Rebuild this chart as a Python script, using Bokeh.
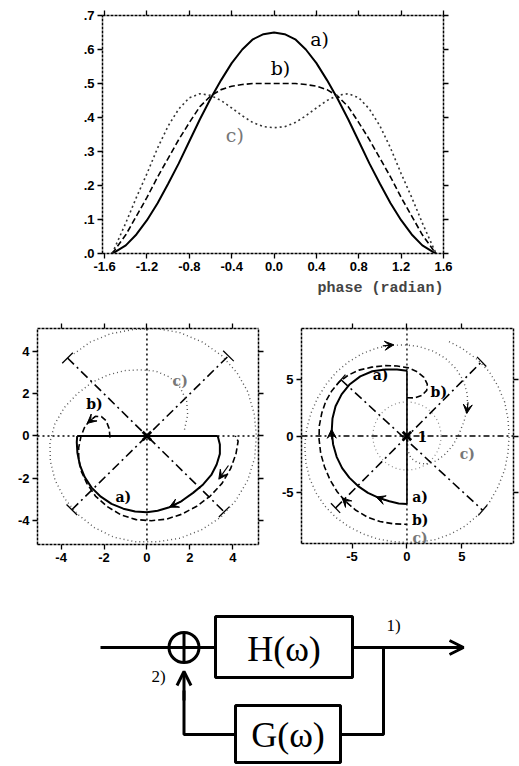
from bokeh.plotting import figure
from bokeh.layouts import column, row
from bokeh.models import (Range1d, LinearAxis, FixedTicker, Title, Span, Arrow,
                          VeeHead, OpenHead, ColumnDataSource)
from bokeh.core.properties import value
from bokeh.embed import file_html
from bokeh.resources import INLINE

# ---------------- top panel: intensity vs phase ----------------
phase = [-1.53, -1.5, -1.4, -1.3, -1.2, -1.1, -1.0, -0.9, -0.8, -0.7, -0.6, -0.5, -0.4,
         -0.3, -0.2, -0.1, 0.0, 0.1, 0.2, 0.3, 0.4, 0.5, 0.6, 0.7, 0.8, 0.9, 1.0, 1.1,
         1.2, 1.3, 1.4, 1.5, 1.53]
curve_a = [0.0, 0.005, 0.024, 0.056, 0.098, 0.148, 0.205, 0.265, 0.33, 0.395, 0.455, 0.51,
           0.56, 0.60, 0.63, 0.645, 0.65, 0.645, 0.63, 0.60, 0.56, 0.51, 0.455, 0.395, 0.33,
           0.265, 0.205, 0.148, 0.098, 0.056, 0.024, 0.005, 0.0]
curve_b = [0.0, 0.012, 0.055, 0.11, 0.165, 0.225, 0.28, 0.335, 0.385, 0.432, 0.463, 0.482,
           0.492, 0.497, 0.50, 0.50, 0.50, 0.50, 0.50, 0.497, 0.492, 0.482, 0.463, 0.432,
           0.385, 0.335, 0.28, 0.225, 0.165, 0.11, 0.055, 0.012, 0.0]
curve_c = [0.0, 0.02, 0.09, 0.165, 0.235, 0.31, 0.375, 0.425, 0.458, 0.47, 0.465, 0.45,
           0.428, 0.405, 0.385, 0.373, 0.37, 0.373, 0.385, 0.405, 0.428, 0.45, 0.465, 0.47,
           0.458, 0.425, 0.375, 0.31, 0.235, 0.165, 0.09, 0.02, 0.0]
top_xticks = [-1.6, -1.2, -0.8, -0.4, 0.0, 0.4, 0.8, 1.2, 1.6]
top_xlabels = ["-1.6", "-1.2", "-0.8", "-0.4", "0.0", "0.4", "0.8", "1.2", "1.6"]
top_yticks = [0.0, 0.1, 0.2, 0.3, 0.4, 0.5, 0.6, 0.7]
top_ylabels = [".0", ".1", ".2", ".3", ".4", ".5", ".6", ".7"]
top_lab_x = [0.43, 0.06, -0.37]
top_lab_y = [0.63, 0.545, 0.35]
top_lab_t = ["a)", "b)", "c)"]

# ---------------- bottom-left panel ----------------
La_x = [3.30, 3.40, 3.40, 3.25, 3.00, 2.62, 2.15, 1.60, 1.05, 0.50, 0.0, -0.55, -1.10, -1.65,
        -2.15, -2.58, -2.90, -3.12, -3.24, -3.27, -3.25]
La_y = [0.0, -0.40, -0.85, -1.35, -1.85, -2.30, -2.70, -3.10, -3.38, -3.55, -3.62, -3.58,
        -3.45, -3.22, -2.88, -2.45, -1.95, -1.40, -0.80, -0.30, 0.0]
La_diam_x = [-3.25, 3.30]
La_diam_y = [0.0, 0.0]
Lb_x = [-1.72, -1.76, -1.90, -2.12, -2.40, -2.68, -2.92, -3.08, -3.18, -3.18, -3.05, -2.80,
        -2.40, -1.85, -1.20, -0.50, 0.20, 0.90, 1.60, 2.30, 2.95, 3.50, 3.90, 4.15, 4.25, 4.12]
Lb_y = [-0.08, 0.35, 0.72, 0.92, 0.93, 0.72, 0.38, -0.05, -0.55, -1.10, -1.70, -2.25,
        -2.85, -3.35, -3.75, -3.97, -4.02, -3.95, -3.72, -3.35, -2.85, -2.25, -1.55, -0.85,
        -0.25, 0.0]
Lc_x = [1.75, 1.90, 1.85, 1.55, 1.05, 0.40, -0.33, -1.05, -1.80, -2.55, -3.25, -3.85, -4.30,
        -4.52, -4.50, -4.28, -3.85, -3.25, -2.45, -1.55, -0.55, 0.50, 1.55, 2.55, 3.45, 4.15,
        4.70, 5.02, 5.10, 5.00, 4.70, 4.20, 3.50, 2.60, 1.55, 0.45, -0.65, -1.70, -2.65, -3.40]
Lc_y = [0.30, 1.00, 1.65, 2.30, 2.80, 3.08, 3.14, 3.10, 2.90, 2.55, 2.00, 1.35, 0.55, -0.30,
        -1.20, -2.10, -2.95, -3.70, -4.35, -4.80, -5.02, -5.02, -4.85, -4.45, -3.85, -3.05,
        -2.10, -1.05, 0.0, 1.05, 2.10, 3.00, 3.80, 4.45, 4.90, 5.10, 5.05, 4.85, 4.45, 3.90]
L_diag_x0 = [-3.7, -3.5]
L_diag_y0 = [3.7, -3.5]
L_diag_x1 = [3.6, 3.8]
L_diag_y1 = [-3.6, 3.8]
L_arr_x0 = [1.70, 3.80, -2.40]
L_arr_y0 = [-3.05, -1.40, 0.93]
L_arr_x1 = [1.05, 3.35, -2.78]
L_arr_y1 = [-3.38, -2.05, 0.60]
L_lab_x = [-1.1, -2.45, 1.55]
L_lab_y = [-2.9, 1.5, 2.6]
L_lab_t = ["a)", "b)", "c)"]
L_ticks = [-4, -2, 0, 2, 4]
L_labels = ["-4", "-2", "0", "2", "4"]

# ---------------- bottom-right panel ----------------
Ra_x = [0.0, -0.75, -1.60, -2.56, -3.55, -4.45, -5.25, -5.90, -6.40, -6.72, -6.85, -6.78,
        -6.50, -5.95, -5.20, -4.25, -3.15, -1.96, -0.90, 0.0]
Ra_y = [-6.05, -5.99, -5.80, -5.50, -5.05, -4.45, -3.70, -2.85, -1.85, -0.75, 0.40, 1.55,
        2.65, 3.70, 4.60, 5.30, 5.75, 5.90, 5.90, 5.80]
Ra_stem_x = [0.0, 0.0]
Ra_stem_y = [-6.05, 5.80]
Rb_x = [0.0, 0.70, 1.35, 1.80, 1.85, 1.55, 0.95, 0.15, -0.90, -2.00, -3.20, -4.37, -5.35,
        -6.17, -6.85, -7.38, -7.75, -7.98, -8.00, -7.85, -7.50, -7.00, -6.35, -5.55, -4.65,
        -3.60, -2.45, -1.25, 0.0]
Rb_y = [3.40, 3.38, 3.60, 4.05, 4.60, 5.20, 5.70, 6.05, 6.22, 6.25, 6.12, 5.85, 5.40, 4.80,
        4.00, 3.10, 2.05, 0.90, -0.30, -1.55, -2.75, -3.90, -4.95, -5.85, -6.60, -7.20,
        -7.60, -7.80, -7.85]
Rc_x = [0.10, 0.05, 0.35, 1.00, 1.80, 2.70, 3.50, 4.20, 4.75, 5.20, 5.50, 5.50, 5.15, 4.45,
        3.50, 2.35, 1.10, -0.20, -1.50, -2.80, -4.10, -5.30, -6.40, -7.35, -8.15, -8.75,
        -9.15, -9.30, -9.20, -8.85, -8.25, -7.45, -6.45, -5.30, -4.00, -2.65, -1.30, 0.0,
        1.30, 2.60, 4.00, 5.30, 6.50, 7.50, 8.30, 8.90, 9.20, 9.30, 9.20, 8.90, 8.30, 7.50,
        6.40, 5.00, 3.60]
Rc_y = [-0.40, -1.20, -1.95, -2.40, -2.50, -2.20, -1.60, -0.80, 0.20, 1.30, 2.50, 3.70,
        4.90, 6.00, 6.90, 7.55, 7.95, 8.10, 8.05, 7.80, 7.30, 6.60, 5.70, 4.60, 3.35, 2.00,
        0.55, -0.90, -2.40, -3.80, -5.10, -6.25, -7.25, -8.05, -8.70, -9.15, -9.38, -9.45,
        -9.40, -9.20, -8.70, -8.00, -7.00, -5.90, -4.50, -3.00, -1.50, 0.0, 1.50, 3.00,
        4.40, 5.70, 6.80, 7.80, 8.50]
Rc_inner_r = [3.1]
R_diag_x0 = [-6.0, -6.5]
R_diag_y0 = [5.0, -6.4]
R_diag_x1 = [6.9, 6.8]
R_diag_y1 = [-6.6, 6.6]
R_arr_x0 = [-2.0, -6.84, -5.10, -2.20, 5.56]
R_arr_y0 = [-5.70, -0.30, -6.25, 8.00, 3.00]
R_arr_x1 = [-2.8, -6.86, -5.90, -1.20, 5.45]
R_arr_y1 = [-5.42, 0.60, -5.50, 8.10, 2.00]
R_lab_x = [-2.4, 2.9, 5.5, 1.2, 1.2, 1.2, 1.4]
R_lab_y = [5.4, 3.9, -1.6, -5.4, -7.5, -9.1, 0.0]
R_lab_t = ["a)", "b)", "c)", "a)", "b)", "c)", "1"]
R_lab_c = ["black", "black", "#777777", "black", "black", "#777777", "black"]
R_ticks = [-5, 0, 5]
R_labels = ["-5", "0", "5"]

# ---------------- block diagram (page-pixel coordinates) ----------------
box_left = [215, 235]
box_right = [352, 340]
box_top = [616, 705]
box_bottom = [677, 762]
box_text = ["H(\u03c9)", "G(\u03c9)"]
box_text_x = [283.5, 287.5]
box_text_y = [648, 734]
sum_x = [183.5]
sum_y = [647]
sum_r = 15
wires_x = [[100, 168.5], [198.5, 215], [383, 383, 340], [235, 183.5, 183.5],
           [168.5, 198.5], [183.5, 183.5]]
wires_y = [[647, 647], [647, 647], [647, 734, 734], [734, 734, 690],
           [647, 647], [632, 662]]
out_arrow = [352, 647, 463, 647]
up_arrow = [183.5, 700, 183.5, 671]
node_lab_x = [393, 158]
node_lab_y = [625, 676]
node_lab_t = ["1)", "2)"]

TICK_FONT = "Liberation Sans"
LAB_FONT = "DejaVu Serif"


def style_axis(ax, ticks, labels, size, show=True):
    ax.ticker = FixedTicker(ticks=ticks)
    ax.major_label_overrides = {t: (l if show else "") for t, l in zip(ticks, labels)}
    ax.major_tick_out = 5
    ax.major_tick_in = 0
    ax.major_tick_line_width = 1.3
    ax.minor_tick_line_color = None
    ax.axis_line_width = 1.5
    ax.axis_line_dash = "3 1"
    ax.major_label_text_font = TICK_FONT
    ax.major_label_text_font_style = "bold"
    ax.major_label_text_color = "black"
    ax.major_label_standoff = 3
    if show:
        ax.major_label_text_font_size = size
    else:
        ax.major_label_text_font_size = "0px"
        ax.major_label_standoff = 0


def frame_axes(p, xt, xl, yt, yl, size):
    style_axis(p.xaxis[0], xt, xl, size)
    style_axis(p.yaxis[0], yt, yl, size)
    top = LinearAxis()
    style_axis(top, xt, xl, size, show=False)
    right = LinearAxis()
    style_axis(right, yt, yl, size, show=False)
    p.add_layout(top, "above")
    p.add_layout(right, "right")
    p.grid.visible = False
    p.outline_line_color = None
    p.background_fill_color = "white"
    p.border_fill_color = "white"


# ---- top figure
p1 = figure(frame_width=341, frame_height=238, x_range=Range1d(-1.62, 1.6),
            y_range=Range1d(0, 0.7), toolbar_location=None, output_backend="svg",
            min_border_left=102, min_border_right=76, min_border_top=15,
            min_border_bottom=47)
frame_axes(p1, top_xticks, top_xlabels, top_yticks, top_ylabels, "13px")
p1.add_layout(Title(text="phase (radian)", align="right", text_font="Liberation Mono",
                    text_font_size="15px", text_font_style="bold", standoff=8), "below")
p1.line(phase, curve_a, line_color="black", line_width=2.0)
p1.line(phase, curve_b, line_color="black", line_width=1.6, line_dash="6 3")
p1.line(phase, curve_c, line_color="#333333", line_width=1.6, line_dash="2 3")
p1.text(top_lab_x, top_lab_y, text=top_lab_t, text_font=value(LAB_FONT),
        text_font_size="19px", text_align="center", text_baseline="middle",
        text_color=["black", "black", "#777777"])


def cap_segments(x0, y0, x1, y1, half):
    cx0, cy0, cx1, cy1 = [], [], [], []
    for a, b, c, d in zip(x0, y0, x1, y1):
        dx, dy = c - a, d - b
        n = (dx * dx + dy * dy) ** 0.5
        px, py = -dy / n * half, dx / n * half
        for ex, ey in ((a, b), (c, d)):
            cx0.append(ex - px)
            cy0.append(ey - py)
            cx1.append(ex + px)
            cy1.append(ey + py)
    return cx0, cy0, cx1, cy1


# ---- bottom-left figure
p2 = figure(frame_width=221, frame_height=216, x_range=Range1d(-5.1, 5.2),
            y_range=Range1d(-5.15, 5.1), toolbar_location=None, output_backend="svg",
            min_border_left=37, min_border_right=12, min_border_top=27, min_border_bottom=27)
frame_axes(p2, L_ticks, L_labels, L_ticks, L_labels, "13px")
p2.add_layout(Span(location=0, dimension="width", line_color="black",
                   line_width=1.5, line_dash="2 3"))
p2.add_layout(Span(location=0, dimension="height", line_color="black",
                   line_width=1.5, line_dash="2 3"))
p2.segment(L_diag_x0, L_diag_y0, L_diag_x1, L_diag_y1, line_color="black",
           line_width=1.6, line_dash="9 4 2 4")
cx0, cy0, cx1, cy1 = cap_segments(L_diag_x0, L_diag_y0, L_diag_x1, L_diag_y1, 0.35)
p2.segment(cx0, cy0, cx1, cy1, line_color="black", line_width=1.3)
p2.line(Lc_x, Lc_y, line_color="#555555", line_width=1.4, line_dash="1 3")
p2.line(Lb_x, Lb_y, line_color="black", line_width=1.6, line_dash="6 3")
p2.line(La_x, La_y, line_color="black", line_width=2.0)
p2.line(La_diam_x, La_diam_y, line_color="black", line_width=2.0)
p2.add_layout(Arrow(end=VeeHead(size=9, fill_color="black", line_color="black"),
                    x_start="x0", y_start="y0", x_end="x1", y_end="y1",
                    line_color="black", line_width=1.2,
                    source=ColumnDataSource(dict(x0=L_arr_x0, y0=L_arr_y0,
                                                 x1=L_arr_x1, y1=L_arr_y1))))
p2.scatter([0], [0], marker="x", size=12, line_width=2.8, line_color="black")
p2.text(L_lab_x, L_lab_y, text=L_lab_t, text_font=value(LAB_FONT), text_font_style="bold",
        text_font_size="14px", text_align="center", text_baseline="middle",
        text_color=["black", "black", "#777777"])

# ---- bottom-right figure
p3 = figure(frame_width=212, frame_height=215, x_range=Range1d(-9.6, 9.7),
            y_range=Range1d(-9.55, 9.55), toolbar_location=None, output_backend="svg",
            min_border_left=31, min_border_right=6, min_border_top=28, min_border_bottom=27)
frame_axes(p3, R_ticks, R_labels, R_ticks, R_labels, "13px")
p3.add_layout(Span(location=0, dimension="width", line_color="black",
                   line_width=1.5, line_dash="6 3 2 3"))
p3.add_layout(Span(location=0, dimension="height", line_color="black",
                   line_width=1.3, line_dash="2 3"))
p3.circle([0], [0], radius=Rc_inner_r[0], fill_color=None, line_color="#888888",
          line_width=1.2, line_dash="1 3")
p3.segment(R_diag_x0, R_diag_y0, R_diag_x1, R_diag_y1, line_color="black",
           line_width=1.6, line_dash="9 4 2 4")
cx0, cy0, cx1, cy1 = cap_segments(R_diag_x0, R_diag_y0, R_diag_x1, R_diag_y1, 0.6)
p3.segment(cx0, cy0, cx1, cy1, line_color="black", line_width=1.3)
p3.line(Rc_x, Rc_y, line_color="#555555", line_width=1.4, line_dash="1 3")
p3.line(Rb_x, Rb_y, line_color="black", line_width=1.6, line_dash="6 3")
p3.line(Ra_x, Ra_y, line_color="black", line_width=2.0)
p3.line(Ra_stem_x, Ra_stem_y, line_color="black", line_width=1.6)
p3.add_layout(Arrow(end=VeeHead(size=9, fill_color="black", line_color="black"),
                    x_start="x0", y_start="y0", x_end="x1", y_end="y1",
                    line_color="black", line_width=1.2,
                    source=ColumnDataSource(dict(x0=R_arr_x0, y0=R_arr_y0,
                                                 x1=R_arr_x1, y1=R_arr_y1))))
p3.scatter([0], [0], marker="x", size=12, line_width=2.8, line_color="black")
p3.text(R_lab_x, R_lab_y, text=R_lab_t, text_font=value(LAB_FONT), text_font_style="bold",
        text_font_size="14px", text_align="center", text_baseline="middle",
        text_color=R_lab_c)

# ---- block diagram
p4 = figure(width=519, height=194, x_range=Range1d(0, 519), y_range=Range1d(764, 570),
            toolbar_location=None, output_backend="svg", x_axis_location=None,
            y_axis_location=None, min_border=0)
p4.min_border_left = 0
p4.min_border_right = 0
p4.min_border_top = 0
p4.min_border_bottom = 0
p4.grid.visible = False
p4.outline_line_color = None
p4.quad(left=box_left, right=box_right, top=box_top, bottom=box_bottom,
        fill_color=None, line_color="black", line_width=3)
p4.text(box_text_x, box_text_y, text=box_text, text_font=value("Liberation Serif"),
        text_font_size="36px", text_align="center", text_baseline="middle")
p4.circle(sum_x, sum_y, radius=sum_r, fill_color=None, line_color="black", line_width=3)
p4.multi_line(wires_x, wires_y, line_color="black", line_width=3)
p4.add_layout(Arrow(end=OpenHead(size=14, line_width=3, line_color="black"),
                    x_start=out_arrow[0], y_start=out_arrow[1],
                    x_end=out_arrow[2], y_end=out_arrow[3],
                    line_color="black", line_width=3))
p4.add_layout(Arrow(end=OpenHead(size=14, line_width=3, line_color="black"),
                    x_start=up_arrow[0], y_start=up_arrow[1],
                    x_end=up_arrow[2], y_end=up_arrow[3],
                    line_color="black", line_width=3))
p4.text(node_lab_x, node_lab_y, text=node_lab_t, text_font=value("Liberation Serif"),
        text_font_size="17px", text_align="center", text_baseline="middle")

layout = column(row(p1), row(p2, p3), row(p4))
open("out.html", "w").write(file_html(layout, INLINE))
